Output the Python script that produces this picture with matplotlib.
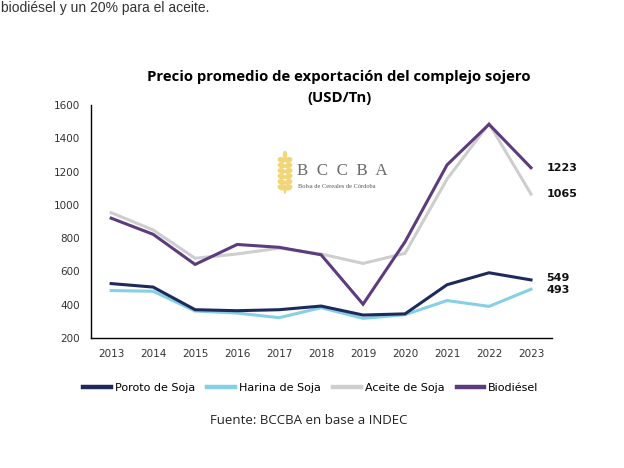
import numpy as np
import matplotlib.pyplot as plt
from matplotlib.patches import Ellipse

years = [2013, 2014, 2015, 2016, 2017, 2018, 2019, 2020, 2021, 2022, 2023]
poroto = [527, 506, 370, 364, 370, 392, 338, 345, 520, 592, 549]
harina = [485, 481, 362, 350, 322, 382, 318, 340, 425, 390, 493]
aceite = [953, 849, 679, 705, 740, 705, 648, 709, 1155, 1488, 1065]
biodiesel = [920, 823, 642, 762, 745, 700, 403, 778, 1240, 1484, 1223]

series = [
    ('Poroto de Soja', poroto, '#1f2a5c'),
    ('Harina de Soja', harina, '#86d0e6'),
    ('Aceite de Soja', aceite, '#cecece'),
    ('Biodiésel', biodiesel, '#5d3b7c'),
]
end_labels = [('1223', 1223), ('1065', 1065), ('549', 562), ('493', 488)]


def main():
    fig = plt.figure(figsize=(6.24, 4.68), dpi=100)
    ax = fig.add_axes([91 / 624, 1 - 338 / 468, 461 / 624, 233 / 468])

    # draw order: gray behind, then the rest
    for name, vals, color in [series[2], series[1], series[0], series[3]]:
        ax.plot(years, vals, color=color, lw=2.2, label=name, solid_joinstyle='miter')

    ax.set_xlim(2012.52, 2023.5)
    ax.set_ylim(200, 1600)
    ax.set_xticks(years)
    ax.set_yticks(range(200, 1601, 200))
    ax.tick_params(length=0, labelsize=7.5, colors='#333333', pad=8)
    for s in ['top', 'right']:
        ax.spines[s].set_visible(False)
    ax.spines['left'].set_linewidth(1.0)
    ax.spines['bottom'].set_linewidth(1.0)

    for txt, v in end_labels:
        ax.annotate(txt, (2023, v), xytext=(11, 0), textcoords='offset points',
                    va='center', ha='left', fontsize=8, fontweight='bold',
                    family='DejaVu Sans', color='#111111')

    # legend in original order
    handles, labels = ax.get_legend_handles_labels()
    order = [labels.index(n) for n, _, _ in series]
    leg = fig.legend([handles[i] for i in order], [labels[i] for i in order],
                     loc='center', bbox_to_anchor=(311 / 624, 1 - 388 / 468), ncol=4,
                     frameon=False, fontsize=8, handlelength=2.5, handletextpad=0.35,
                     columnspacing=1.1)
    for line in leg.get_lines():
        line.set_linewidth(3.2)

    fig.text(339 / 624, 1 - 77 / 468, 'Precio promedio de exportación del complejo sojero',
             ha='center', va='center', fontsize=10.7, fontweight='bold', family='Open Sans')
    fig.text(339 / 624, 1 - 98 / 468, '(USD/Tn)', ha='center', va='center',
             fontsize=10.7, fontweight='bold', family='Open Sans')
    fig.text(309 / 624, 1 - 420 / 468, 'Fuente: BCCBA en base a INDEC', ha='center',
             va='center', fontsize=9.5, family='Open Sans', color='#222222')

    # sentence at the top of the page (cut off in the original screenshot)
    fig.text(1 / 624, 1 - 1 / 468, 'biodiésel y un 20% para el aceite.', ha='left',
             va='top', fontsize=10, family='Liberation Sans', color='#333333')

    # logo
    fig.text(297 / 624, 1 - 171 / 468, 'B  C  C  B  A', ha='left', va='center',
             fontsize=12.2, family='Liberation Serif', color='#6b6b6b')
    fig.text(298 / 624, 1 - 187 / 468, 'Bolsa de Cereales de Córdoba', ha='left',
             va='center', fontsize=4.6, family='Liberation Serif', color='#555555')
    gold = '#f2d675'
    for i in range(6):
        yy = 160 + i * 5.5
        for dx, ang in ((-3.5, -40), (3.5, 40)):
            fig.patches.append(Ellipse(((285 + dx) / 624, 1 - yy / 468),
                                       7 / 624, 4 / 468, angle=ang,
                                       transform=fig.transFigure, color=gold))
    fig.patches.append(Ellipse((285 / 624, 1 - 155 / 468), 3 / 624, 7 / 468,
                               transform=fig.transFigure, color=gold))
    fig.patches.append(Ellipse((285 / 624, 1 - 189 / 468), 1.5 / 624, 8 / 468,
                               transform=fig.transFigure, color=gold))

    fig.savefig('out.png', dpi=100)


if __name__ == "__main__":
    main()
